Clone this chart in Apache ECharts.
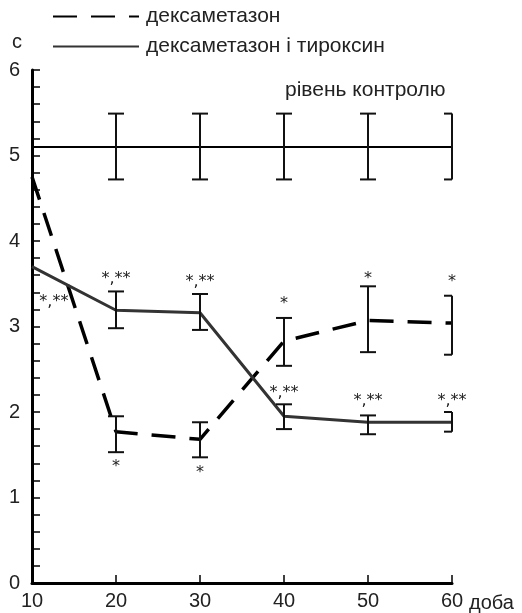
<!DOCTYPE html>
<html>
<head>
<meta charset="utf-8">
<script src="https://cdn.jsdelivr.net/npm/echarts@6/dist/echarts.min.js"></script>
<style>
  html, body { margin: 0; padding: 0; background: #fff; }
  #chart { width: 522px; height: 613px; }
</style>
</head>
<body>
<div id="chart"></div>
<script>
// доби спостереження
var days = [10, 20, 30, 40, 50, 60];

// дексаметазон
var dexa = [4.75, 1.77, 1.68, 2.83, 3.07, 3.04];
var dexaLow = [null, 1.53, 1.47, 2.54, 2.70, 2.67];
var dexaHigh = [null, 1.95, 1.88, 3.10, 3.47, 3.36];

// дексаметазон і тироксин
var dexaThyro = [3.70, 3.19, 3.16, 1.95, 1.88, 1.88];
var dexaThyroLow = [null, 2.98, 2.96, 1.80, 1.74, 1.77];
var dexaThyroHigh = [null, 3.41, 3.38, 2.09, 1.96, 2.00];

// рівень контролю
var control = [5.10, 5.10, 5.10, 5.10, 5.10, 5.10];
var controlLow = [null, 4.72, 4.72, 4.72, 4.72, 4.72];
var controlHigh = [null, 5.49, 5.49, 5.49, 5.49, 5.49];

// позначки достовірності
var annX = [12.6, 20, 30, 40, 50, 60, 20, 30, 40, 50, 60];
var annY = [3.34, 3.61, 3.57, 2.27, 2.18, 2.18, 1.40, 1.33, 3.31, 3.61, 3.57];
var annText = ['*,**', '*,**', '*,**', '*,**', '*,**', '*,**', '*', '*', '*', '*', '*'];

var yTicks = [0, 1, 2, 3, 4, 5, 6];

function pairs(ys) {
    var out = [];
    for (var i = 0; i < days.length; i++) out.push([days[i], ys[i]]);
    return out;
}

function bars(lo, hi) {
    var out = [];
    for (var i = 0; i < days.length; i++) {
        if (lo[i] != null) out.push([days[i], lo[i], hi[i]]);
    }
    return out;
}

function errorBarItem(params, api) {
    var x = api.value(0);
    var top = api.coord([x, api.value(2)]);
    var bot = api.coord([x, api.value(1)]);
    var half = 8;
    // на останній добі лише ліві засічки — "]"
    var last = x === days[days.length - 1];
    var right = last ? 0 : half;
    var style = { stroke: '#111', lineWidth: 2 };
    return {
        type: 'group',
        children: [
            { type: 'line', shape: { x1: top[0], y1: top[1], x2: bot[0], y2: bot[1] }, style: style },
            { type: 'line', shape: { x1: top[0] - half, y1: top[1], x2: top[0] + right, y2: top[1] }, style: style },
            { type: 'line', shape: { x1: bot[0] - half, y1: bot[1], x2: bot[0] + right, y2: bot[1] }, style: style }
        ]
    };
}

var annData = [];
for (var i = 0; i < annX.length; i++) annData.push([annX[i], annY[i]]);

var chart = echarts.init(document.getElementById('chart'));

var font = 'Liberation Sans, Arial, sans-serif';

var option = {
    backgroundColor: '#fff',
    animation: false,
    textStyle: { fontFamily: font },
    grid: { left: 32, right: 70, top: 70, bottom: 28 },
    legend: {
        data: ['дексаметазон', 'дексаметазон і тироксин'],
        orient: 'vertical',
        left: 47,
        top: 1,
        itemWidth: 86,
        itemHeight: 20,
        itemGap: 9,
        itemStyle: { opacity: 0, borderWidth: 0 },
        textStyle: { fontSize: 21, color: '#222', fontFamily: font, padding: [0, 0, 0, 2] }
    },
    graphic: [{
        type: 'text',
        left: 285,
        top: 80,
        style: { text: 'рівень контролю', fill: '#222', font: '21px ' + font }
    }],
    xAxis: {
        type: 'value',
        min: 10,
        max: 60,
        interval: 10,
        name: 'доба',
        nameLocation: 'end',
        nameGap: 15,
        nameTextStyle: { fontSize: 20, color: '#222', verticalAlign: 'top', padding: [10, 0, 0, 0] },
        axisLine: { lineStyle: { color: '#000', width: 3 } },
        axisTick: { inside: true, length: 8, lineStyle: { color: '#000', width: 1.5 } },
        axisLabel: { fontSize: 20, color: '#222', margin: 8 },
        splitLine: { show: false }
    },
    yAxis: {
        type: 'value',
        min: yTicks[0],
        max: yTicks[yTicks.length - 1],
        interval: 1,
        name: 'с',
        nameLocation: 'end',
        nameGap: 18,
        nameTextStyle: { fontSize: 20, color: '#222', align: 'right', padding: [0, 10, 0, 0] },
        axisLine: { show: true, lineStyle: { color: '#000', width: 3 } },
        axisTick: { show: true, inside: true, length: 8, lineStyle: { color: '#000', width: 1.5 } },
        minorTick: { show: true, splitNumber: 5, length: 8, lineStyle: { color: '#000', width: 1.5 } },
        axisLabel: { fontSize: 20, color: '#222', margin: 12 },
        splitLine: { show: false }
    },
    series: [
        {
            name: 'рівень контролю',
            type: 'line',
            data: pairs(control),
            symbol: 'none',
            lineStyle: { color: '#000', width: 2 },
            z: 2
        },
        {
            name: 'дексаметазон',
            type: 'line',
            data: pairs(dexa),
            symbol: 'none',
            itemStyle: { color: '#000' },
            lineStyle: { color: '#000', width: 3.5, type: [24, 14] },
            z: 3
        },
        {
            name: 'дексаметазон і тироксин',
            type: 'line',
            data: pairs(dexaThyro),
            symbol: 'none',
            itemStyle: { color: '#333' },
            lineStyle: { color: '#333', width: 3 },
            z: 3
        },
        {
            name: 'control-err',
            type: 'custom',
            renderItem: errorBarItem,
            data: bars(controlLow, controlHigh),
            z: 4
        },
        {
            name: 'dexa-err',
            type: 'custom',
            renderItem: errorBarItem,
            data: bars(dexaLow, dexaHigh),
            z: 4
        },
        {
            name: 'dexaThyro-err',
            type: 'custom',
            renderItem: errorBarItem,
            data: bars(dexaThyroLow, dexaThyroHigh),
            z: 4
        },
        {
            name: 'marks',
            type: 'custom',
            data: annData,
            z: 5,
            renderItem: function (params, api) {
                var p = api.coord([api.value(0), api.value(1)]);
                return {
                    type: 'text',
                    x: p[0],
                    y: p[1] + 4,
                    style: {
                        text: annText[params.dataIndex],
                        font: '16px DejaVu Sans, sans-serif',
                        fill: '#222',
                        align: 'center',
                        verticalAlign: 'middle'
                    }
                };
            }
        }
    ]
};

chart.setOption(option);
</script>
</body>
</html>
